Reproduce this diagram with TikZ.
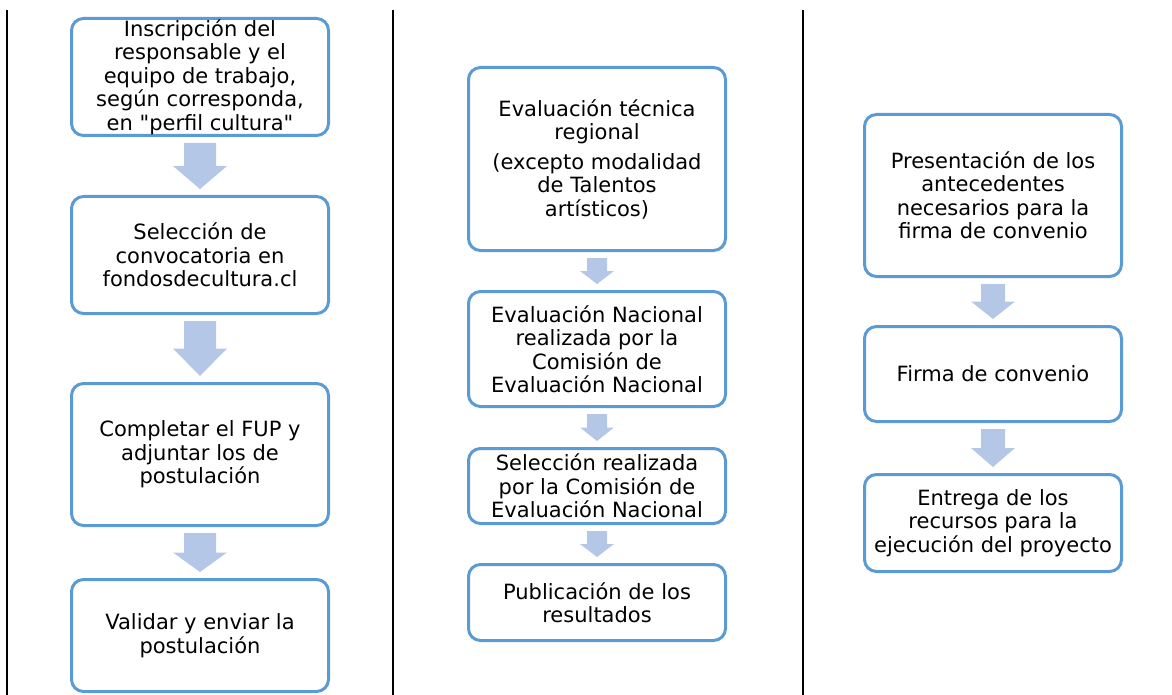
\documentclass[tikz,border=0pt]{standalone}
\usepackage{fontspec}
\setmainfont{DejaVu Sans}[Ligatures=TeXOff]
\usetikzlibrary{calc}

\definecolor{boxblue}{HTML}{5B9BD5}
\definecolor{arrowblue}{HTML}{B4C7E7}

\tikzset{
  paso/.style={draw=boxblue, line width=3pt, rounded corners=12pt, fill=white,
    align=center, inner sep=0pt, minimum width=257pt,
    font=\fontsize{21}{23.5}\selectfont},
  divisor/.style={line width=2.5pt},
}

% block arrow between two boxes: from, to, shaft half width, head half width
\newcommand{\flecha}[4]{%
  \path ($(#1.south)+(0,-6pt)$) coordinate (fl-top)
        ($(#2.north)+(0,6pt)$) coordinate (fl-tip);
  \fill[arrowblue] let \p1=(fl-top), \p2=(fl-tip), \n1={(\y1+\y2)/2} in
    (\x1-#3,\y1) -- (\x1+#3,\y1) -- (\x1+#3,\n1) -- (\x1+#4,\n1)
    -- (\x2,\y2) -- (\x1-#4,\n1) -- (\x1-#3,\n1) -- cycle;
}

\begin{document}
\begin{tikzpicture}[x=1pt, y=-1pt]
    \useasboundingbox (0,0) rectangle (1172,695);
    \draw[divisor] (7,10) -- (7,695);
    \draw[divisor] (393,10) -- (393,695);
    \draw[divisor] (803,10) -- (803,695);

    % postulacion
    \node[paso, minimum height=117pt] (inscripcion) at (200,77)
        {Inscripción del\\responsable y el\\equipo de trabajo,\\según corresponda,\\en "perfil cultura"};
    \node[paso, minimum height=117pt] (seleccion) at (200,255)
        {Selección de\\convocatoria en\\fondosdecultura.cl};
    \node[paso, minimum height=142pt] (completar) at (200,454.5)
        {Completar el FUP y\\adjuntar los de\\postulación};
    \node[paso, minimum height=112pt] (validar) at (200,635.5)
        {Validar y enviar la\\postulación};

    % evaluacion
    \node[paso, minimum height=183pt] (tecnica) at (597,159)
        {Evaluación técnica\\regional\\[6pt](excepto modalidad\\de Talentos\\artísticos)};
    \node[paso, minimum height=115pt] (nacional) at (597,349)
        {Evaluación Nacional\\realizada por la\\Comisión de\\Evaluación Nacional};
    \node[paso, minimum height=75pt] (comision) at (597,486)
        {Selección realizada\\por la Comisión de\\Evaluación Nacional};
    \node[paso, minimum height=76pt] (publicacion) at (597,602.5)
        {Publicación de los\\resultados};

    % convenio
    \node[paso, minimum height=162pt] (antecedentes) at (993,195.5)
        {Presentación de los\\antecedentes\\necesarios para la\\firma de convenio};
    \node[paso, minimum height=95pt] (firma) at (993,374)
        {Firma de convenio};
    \node[paso, minimum height=97pt] (entrega) at (993,523)
        {Entrega de los\\recursos para la\\ejecución del proyecto};

    \flecha{inscripcion}{seleccion}{16pt}{27pt}
    \flecha{seleccion}{completar}{16pt}{27pt}
    \flecha{completar}{validar}{16pt}{27pt}
    \flecha{tecnica}{nacional}{10pt}{17pt}
    \flecha{nacional}{comision}{10pt}{17pt}
    \flecha{comision}{publicacion}{10pt}{17pt}
    \flecha{antecedentes}{firma}{12pt}{22pt}
    \flecha{firma}{entrega}{12pt}{22pt}
\end{tikzpicture}
\end{document}
